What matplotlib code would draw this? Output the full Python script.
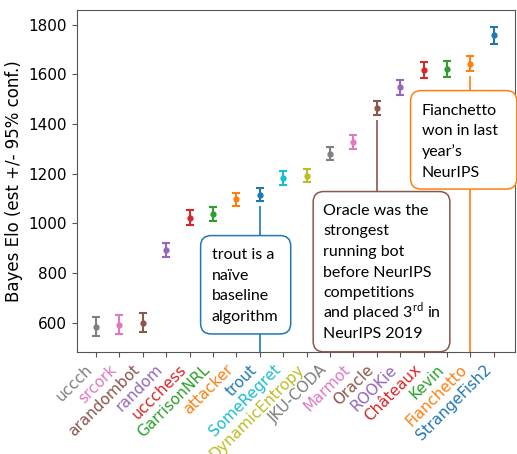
import numpy as np
import matplotlib.pyplot as plt
from matplotlib.patches import FancyBboxPatch

# Bayes Elo estimates with 95% confidence half-widths
bots = ['uccch', 'srcork', 'arandombot', 'random', 'uccchess', 'GarrisonNRL',
        'attacker', 'trout', 'SomeRegret', 'DynamicEntropy', 'JKU-CODA', 'Marmot',
        'Oracle', 'ROOKie', 'Châteaux', 'Kevin', 'Fianchetto', 'StrangeFish2']
elo = [584, 592, 600, 893, 1023, 1038, 1097, 1116, 1182, 1192, 1281, 1327,
       1464, 1549, 1619, 1621, 1643, 1758]
conf = [38, 38, 40, 28, 29, 28, 27, 27, 27, 27, 27, 28,
        27, 30, 32, 32, 30, 35]

# reversed tab10 cycle
palette = ['tab:gray', 'tab:pink', 'tab:brown', 'tab:purple', 'tab:red', 'tab:green',
           'tab:orange', 'tab:blue', 'tab:cyan', 'tab:olive']
colors = [palette[i % 10] for i in range(len(bots))]

notes = [
    ('trout', ['trout is a', 'naïve', 'baseline', 'algorithm']),
    ('Oracle', ['Oracle was the', 'strongest', 'running bot', 'before NeurIPS',
                'competitions', 'and placed 3$^{\\mathrm{rd}}$ in', 'NeurIPS 2019']),
    ('Fianchetto', ['Fianchetto', 'won in last', 'year’s', 'NeurIPS']),
]

plt.rcParams['mathtext.fontset'] = 'custom'
plt.rcParams['mathtext.rm'] = 'Lato'

fig = plt.figure(figsize=(5.17, 4.54), dpi=100)
ax = fig.add_axes([0.149, 0.224, 0.847, 0.753])

x = np.arange(len(bots))
for i in x:
    ax.errorbar(i, elo[i], yerr=conf[i], fmt='o', color=colors[i], markersize=3.5,
                capsize=3, elinewidth=1.5, capthick=1.5)

ax.set_xlim(-0.81, 17.9)
ax.set_ylim(480, 1858)
ax.set_yticks([600, 800, 1000, 1200, 1400, 1600, 1800])
ax.set_xticks(x)
ax.set_xticklabels(bots, rotation=45, ha='right', fontsize=11)
for lab, c in zip(ax.get_xticklabels(), colors):
    lab.set_color(c)
ax.tick_params(axis='y', labelsize=11)
ax.set_ylabel('Bayes Elo (est +/- 95% conf.)', fontsize=12)
for s in ax.spines.values():
    s.set_color('#555555')
ax.tick_params(color='#555555')

# callout boxes: (x0, x1, y0, y1) in data units, then first baseline
boxes = [(4.47, 8.32, 554, 950.5, 4.94, 856),
         (9.28, 15.12, 482, 1128, 9.71, 1034),
         (13.44, 17.98, 1138, 1535, 13.91, 1437)]
aspect = (200 / 49.6) * 23.41
line_step = 14.8  # points between baselines
for (name, lines), (x0, x1, y0, y1, tx, ty) in zip(notes, boxes):
    i = bots.index(name)
    c = colors[i]
    ax.vlines(i, 480, elo[i] - conf[i] - 20, color=c, lw=1.2, zorder=1)
    ax.add_patch(FancyBboxPatch((x0, y0), x1 - x0, y1 - y0,
                                boxstyle='round,pad=0,rounding_size=0.45',
                                mutation_aspect=aspect, fc='white', ec=c, lw=1.1,
                                zorder=3, clip_on=False))
    for k, line in enumerate(lines):
        ax.annotate(line, (tx, ty), xytext=(0, -k * line_step),
                    textcoords='offset points', family='Lato', fontsize=11.5,
                    va='baseline', ha='left', zorder=4)

fig.savefig('out.png', dpi=100)
